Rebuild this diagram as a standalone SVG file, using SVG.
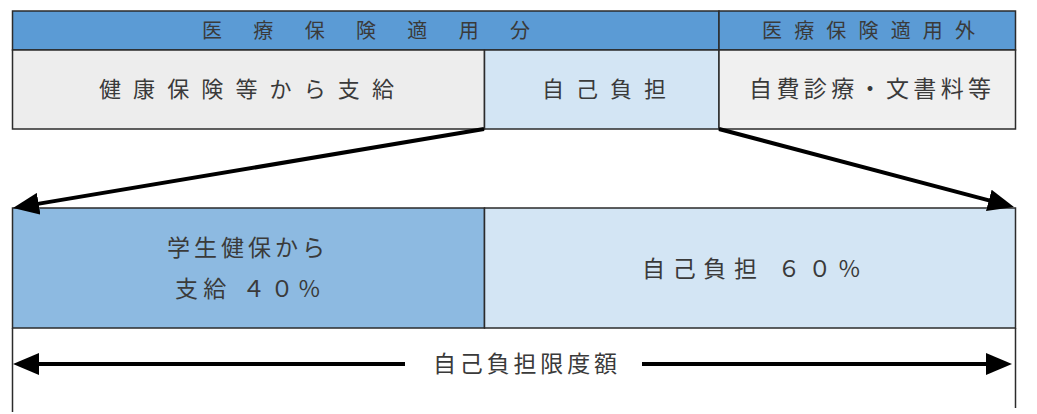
<svg xmlns="http://www.w3.org/2000/svg" width="1037" height="414" viewBox="0 0 1037 414">
<style>
.t{font-family:"Noto Sans CJK JP","Liberation Serif",sans-serif;fill:#3a3a3a;}
.b{stroke:#2b2b2b;stroke-width:1.5;}
.c{stroke:#000;stroke-width:4;fill:none;}
.v{stroke:#2b2b2b;stroke-width:1.5;fill:none;}
</style>
<defs>
<marker id="ah" markerUnits="userSpaceOnUse" markerWidth="26" markerHeight="22" viewBox="0 0 26 22" refX="4" refY="11" orient="auto">
<path d="M0,0 L26,11 L0,22 z" fill="#000"/>
</marker>
</defs>
<rect width="1037" height="414" fill="#fff"/>
<g id="header-covered">
<rect class="b" x="12.5" y="11" width="706.5" height="39" fill="#5b9bd5"/>
<text class="t" x="202" y="37.5" font-size="20" textLength="328" lengthAdjust="spacing">医 療 保 険 適 用 分</text>
</g>
<g id="header-uncovered">
<rect class="b" x="719" y="11" width="296.5" height="39" fill="#5b9bd5"/>
<text class="t" x="762" y="37.5" font-size="20" textLength="213" lengthAdjust="spacing">医療保険適用外</text>
</g>
<g id="insurance-pay">
<rect class="b" x="12.5" y="50" width="472" height="79" fill="#ededed"/>
<text class="t" x="99" y="97" font-size="22" textLength="295" lengthAdjust="spacing">健康保険等から支給</text>
</g>
<g id="self-pay">
<rect class="b" x="484.5" y="50" width="234.5" height="79" fill="#d3e5f4"/>
<text class="t" x="542" y="97" font-size="22" textLength="124" lengthAdjust="spacing">自己負担</text>
</g>
<g id="uncovered">
<rect class="b" x="719" y="50" width="296.5" height="79" fill="#f0f0f0"/>
<text class="t" x="749" y="97" font-size="23" textLength="242" lengthAdjust="spacing">自費診療・文書料等</text>
</g>
<g id="student-insurance">
<rect class="b" x="12.5" y="208" width="472" height="120" fill="#8dbae1"/>
<text class="t" x="167" y="256" font-size="23" textLength="158" lengthAdjust="spacing">学生健保から</text>
<text class="t" x="175" y="297" font-size="23" textLength="145" lengthAdjust="spacing">支給 ４０%</text>
</g>
<g id="self-pay-60">
<rect class="b" x="484.5" y="208" width="531" height="120" fill="#d3e5f4"/>
<text class="t" x="642" y="277" font-size="23" textLength="218" lengthAdjust="spacing">自己負担 ６０%</text>
</g>
<g id="limit">
<line class="v" x1="12.5" y1="328" x2="12.5" y2="412"/>
<line class="v" x1="1015.5" y1="328" x2="1015.5" y2="408"/>
<text class="t" x="433" y="372" font-size="23" textLength="184" lengthAdjust="spacing">自己負担限度額</text>
</g>
<g id="connectors">
<line class="c" x1="484" y1="129" x2="34.7" y2="204.4" marker-end="url(#ah)"/>
<line class="c" x1="719" y1="129" x2="992.7" y2="201.4" marker-end="url(#ah)"/>
<line class="c" x1="405" y1="364" x2="35" y2="364" marker-end="url(#ah)"/>
<line class="c" x1="642" y1="364" x2="990" y2="364" marker-end="url(#ah)"/>
</g>
</svg>
